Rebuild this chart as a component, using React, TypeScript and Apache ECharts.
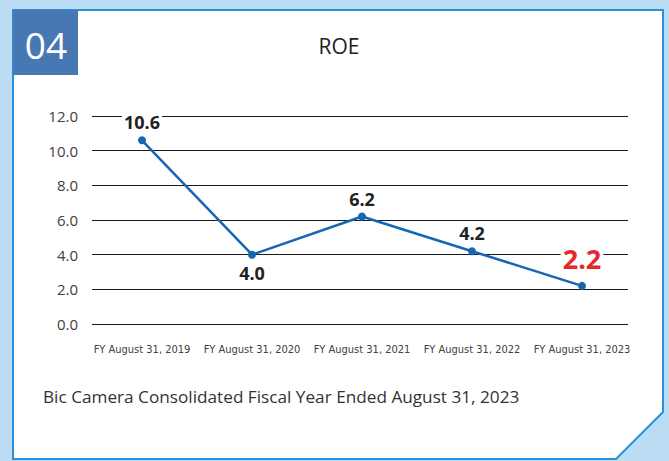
import React, { useEffect, useRef } from "react";
import * as echarts from "echarts";

const categories = [
  "FY August 31, 2019",
  "FY August 31, 2020",
  "FY August 31, 2021",
  "FY August 31, 2022",
  "FY August 31, 2023",
];
const roeValues = [10.6, 4.0, 6.2, 4.2, 2.2];
const labelPositions = ["top", "bottom", "top", "top", "top"];
const yMin = 0;
const yMax = 12;
const yInterval = 2;

export default function App() {
  const ref = useRef<HTMLDivElement>(null);
  useEffect(() => {
    document.body.style.margin = "0";
    const chart = echarts.init(ref.current!, null, { renderer: "svg" });
    const data = roeValues.map((v, i) => {
      const last = i === roeValues.length - 1;
      return {
        value: v,
        label: {
          show: true,
          position: labelPositions[i],
          distance: last ? 10 : 5,
          formatter: (p: any) => Number(p.value).toFixed(1),
          fontSize: last ? 27 : 18,
          fontWeight: "bold",
          color: last ? "#e8262e" : "#222222",
          backgroundColor: "#ffffff",
          padding: [0, 2],
          fontFamily: "Open Sans",
        },
      };
    });
    chart.setOption({
      animation: false,
      backgroundColor: "#bcdcf4",
      graphic: [
        {
          type: "polygon",
          shape: {
            points: [
              [13, 10],
              [663, 10],
              [663, 412],
              [616, 459],
              [13, 459],
            ],
          },
          style: { fill: "#ffffff", stroke: "#2b90d9", lineWidth: 2 },
          z: -10,
        },
        {
          type: "rect",
          shape: { x: 13, y: 10, width: 65, height: 65 },
          style: { fill: "#4878b4" },
          z: -5,
        },
        {
          type: "text",
          x: 46,
          y: 44,
          style: {
            text: "04",
            fill: "#ffffff",
            fontSize: 37,
            fontFamily: "Open Sans",
            align: "center",
            verticalAlign: "middle",
          },
        },
        {
          type: "text",
          x: 339,
          y: 46,
          style: {
            text: "ROE",
            fill: "#222222",
            fontSize: 21,
            fontFamily: "Open Sans",
            align: "center",
            verticalAlign: "middle",
          },
        },
        {
          type: "text",
          x: 43,
          y: 396,
          style: {
            text: "Bic Camera Consolidated Fiscal Year Ended August 31, 2023",
            fill: "#333333",
            fontSize: 17.2,
            fontFamily: "Open Sans",
            align: "left",
            verticalAlign: "middle",
          },
        },
      ],
      grid: [
        { left: 87, right: 32, top: 116, bottom: 137 },
        { left: 92, right: 41, top: 116, bottom: 137 },
      ],
      xAxis: [
        {
          type: "category",
          gridIndex: 0,
          data: categories,
          axisLine: { show: false },
          axisTick: { show: false },
          axisLabel: {
            fontSize: 11,
            color: "#404040",
            fontFamily: "DejaVu Sans Condensed",
            margin: 20,
            interval: 0,
          },
        },
        {
          type: "category",
          gridIndex: 1,
          data: categories,
          show: false,
        },
      ],
      yAxis: [
        {
          type: "value",
          gridIndex: 0,
          min: yMin,
          max: yMax,
          interval: yInterval,
          splitLine: { show: false },
          axisLine: { show: false },
          axisTick: { show: false },
          axisLabel: {
            formatter: (v: number) => v.toFixed(1),
            fontSize: 15,
            color: "#404040",
            fontFamily: "Open Sans",
            margin: 9,
          },
        },
        {
          type: "value",
          gridIndex: 1,
          min: yMin,
          max: yMax,
          interval: yInterval,
          splitLine: { show: true, lineStyle: { color: "#1a1a1a", width: 1 } },
          axisLine: { show: false },
          axisTick: { show: false },
          axisLabel: { show: false },
        },
      ],
      series: [
        {
          type: "line",
          xAxisIndex: 0,
          yAxisIndex: 0,
          data,
          symbol: "circle",
          symbolSize: 8,
          lineStyle: { color: "#1566b3", width: 2.5 },
          itemStyle: { color: "#1566b3" },
          z: 5,
        },
      ],
    });
    return () => chart.dispose();
  }, []);
  return <div ref={ref} style={{ width: 669, height: 461 }} />;
}
